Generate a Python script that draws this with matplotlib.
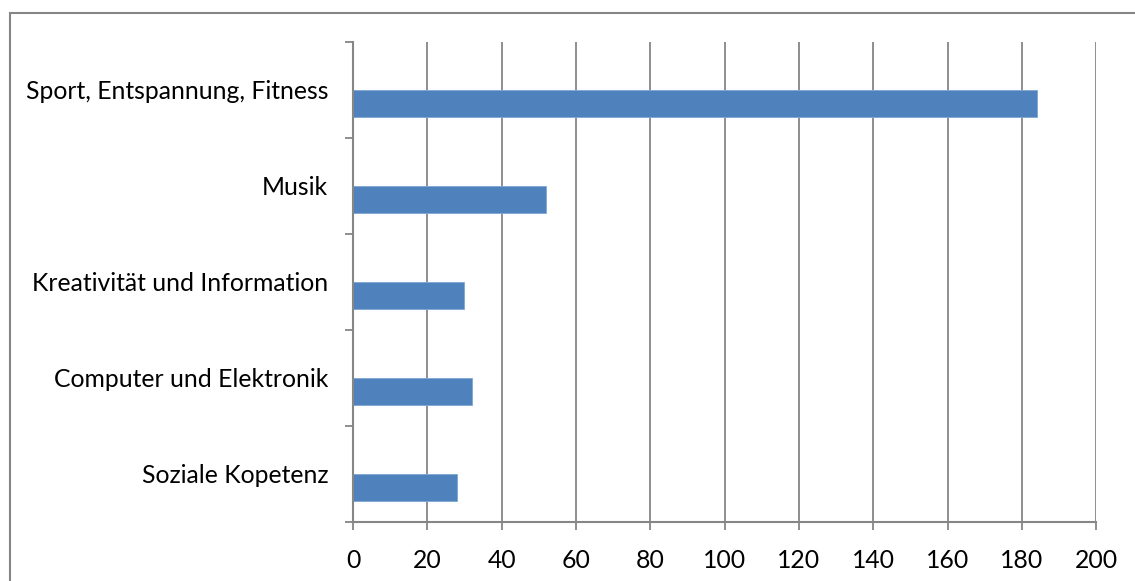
import numpy as np
import matplotlib.pyplot as plt
from matplotlib.patches import Rectangle

categories = ['Sport, Entspannung, Fitness', 'Musik', 'Kreativität und Information',
              'Computer und Elektronik', 'Soziale Kopetenz']
values = [184, 52, 30, 32, 28]
xticks = [0, 20, 40, 60, 80, 100, 120, 140, 160, 180, 200]

plt.rcParams['font.family'] = ['Lato', 'DejaVu Sans']
grey = '#868686'
blue = '#4f81bd'

W, H = 1135, 581
fig = plt.figure(figsize=(W / 100, H / 100), dpi=100)
ax = fig.add_axes([353 / W, (H - 521.7) / H, (1096.3 - 353) / W, (521.7 - 42) / H])

n = len(categories)
slot = np.arange(n) + 0.5
ax.barh(slot + 0.14, values, height=0.28, color=blue, edgecolor='#7ea6d6',
        linewidth=0.6, zorder=3)

ax.set_xlim(0, 200)
ax.set_ylim(n, 0)
ax.set_xticks(xticks)
ax.set_yticks(np.arange(n + 1))
ax.set_yticklabels([])
ax.set_yticks(slot, minor=True)
ax.set_yticklabels(categories, minor=True)

ax.grid(axis='x', color=grey, linewidth=1.3, zorder=0)
for s in ['top', 'right']:
    ax.spines[s].set_visible(False)
for s in ['left', 'bottom']:
    ax.spines[s].set_color(grey)
    ax.spines[s].set_linewidth(1.5)
    ax.spines[s].set_zorder(4)

ax.tick_params(axis='y', which='major', length=6, width=1.3, color=grey, direction='out')
ax.tick_params(axis='y', which='minor', length=0, pad=18, labelsize=17.8)
ax.tick_params(axis='x', length=6, width=1.3, color=grey, direction='out', pad=14,
               labelsize=17.8)

fig.patches.append(Rectangle((10 / W, -0.1), 1.2, (H - 13) / H + 0.1,
                             transform=fig.transFigure, fill=False,
                             edgecolor=grey, linewidth=1.5))

fig.savefig('out.png', dpi=100)
